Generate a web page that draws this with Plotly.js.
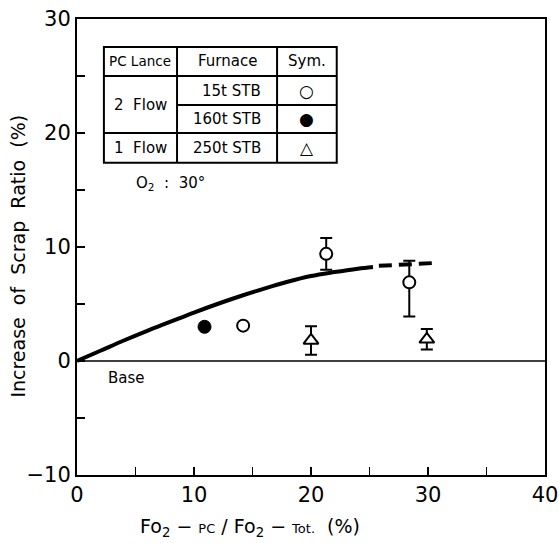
<!DOCTYPE html>
<html>
<head>
<meta charset="utf-8">
<script src="https://cdn.plot.ly/plotly-3.0.1.min.js"></script>
<style>html,body{margin:0;padding:0;background:#fff;}</style>
</head>
<body>
<div id="chart" style="width:559px;height:543px;"></div>
<script>
// Fitted curve (solid)
const curveX = [0, 2, 4, 6, 8, 10, 12, 14, 16, 18, 20, 22, 24, 25.3];
const curveY = [0, 0.9, 1.8, 2.65, 3.45, 4.25, 5.0, 5.7, 6.35, 6.95, 7.45, 7.8, 8.1, 8.25];
// Extrapolated curve (dashed)
const dashX = [25.8, 28, 30.6];
const dashY = [8.35, 8.5, 8.6];
// 15t STB (open circles)
const stb15X = [14.2, 21.3, 28.4];
const stb15Y = [3.1, 9.4, 6.9];
const stb15ErrPlus = [0, 1.4, 1.9];
const stb15ErrMinus = [0, 1.4, 3.0];
// 160t STB (filled circle)
const stb160X = [10.9];
const stb160Y = [3.0];
// 250t STB (triangles)
const stb250X = [20.0, 29.9];
const stb250Y = [1.8, 1.9];
const stb250Err = [1.25, 0.9];
// Axis ticks
const xTickVals = [0, 5, 10, 15, 20, 25, 30, 35, 40];
const xTickText = ['0', '', '10', '', '20', '', '30', '', '40'];
const yTickVals = [-10, -5, 0, 5, 10, 15, 20, 25, 30];
const yTickText = ['\u221210', '', '0', '', '10', '', '20', '', '30'];

const FONT = 'DejaVu Sans, Liberation Sans, sans-serif';

const traces = [
  {x: curveX, y: curveY, mode: 'lines', line: {color: '#000', width: 4, shape: 'spline'}, hoverinfo: 'skip'},
  {x: dashX, y: dashY, mode: 'lines', line: {color: '#000', width: 4, dash: '13px,7px'}, hoverinfo: 'skip'},
  {x: stb15X, y: stb15Y, mode: 'markers',
   marker: {symbol: 'circle', size: 12, color: '#fff', line: {color: '#000', width: 2}},
   error_y: {type: 'data', symmetric: false, array: stb15ErrPlus, arrayminus: stb15ErrMinus, color: '#000', thickness: 2, width: 6}},
  {x: stb160X, y: stb160Y, mode: 'markers',
   marker: {symbol: 'circle', size: 13, color: '#000', line: {color: '#000', width: 1}}},
  {x: stb250X, y: stb250Y, mode: 'markers',
   marker: {symbol: 'triangle-up', size: 13, color: '#fff', line: {color: '#000', width: 2}},
   error_y: {type: 'data', array: stb250Err, color: '#000', thickness: 2, width: 6}}
];

// Table geometry (data coordinates)
const tL = 2.3, c1 = 8.55, c2 = 17.1, tR = 22.2;
const rT = 27.55, r1 = 25.0, r2 = 22.45, r3 = 20.0, rB = 17.4;
const ln = {color: '#000', width: 2};
const shapes = [
  {type: 'rect', xref: 'x', yref: 'y', x0: tL, x1: tR, y0: rB, y1: rT, line: ln},
  {type: 'line', xref: 'x', yref: 'y', x0: c1, x1: c1, y0: rB, y1: rT, line: ln},
  {type: 'line', xref: 'x', yref: 'y', x0: c2, x1: c2, y0: rB, y1: rT, line: ln},
  {type: 'line', xref: 'x', yref: 'y', x0: tL, x1: tR, y0: r1, y1: r1, line: ln},
  {type: 'line', xref: 'x', yref: 'y', x0: c1, x1: tR, y0: r2, y1: r2, line: ln},
  {type: 'line', xref: 'x', yref: 'y', x0: tL, x1: tR, y0: r3, y1: r3, line: ln},
  {type: 'line', xref: 'x', yref: 'y', x0: 0, x1: 40, y0: 0, y1: 0, line: {color: '#000', width: 1.5}}
];

function ann(x, y, text, size, extra) {
  return Object.assign({xref: 'x', yref: 'y', x: x, y: y, text: text, showarrow: false,
    font: {family: FONT, size: size || 14, color: '#000'}}, extra || {});
}
const m1 = (tL + c1) / 2, m2 = (c1 + c2) / 2, m3 = (c2 + tR) / 2;
const annotations = [
  ann(m1, (rT + r1) / 2, 'PC Lance', 13.5),
  ann(m2, (rT + r1) / 2, 'Furnace', 15),
  ann(m3, (rT + r1) / 2, 'Sym.', 15),
  ann(m1, (r1 + r3) / 2, '2  Flow', 15),
  ann(m2 + 0.4, (r1 + r2) / 2, '15t STB', 15),
  ann(m2, (r2 + r3) / 2, '160t STB', 15),
  ann(m1, (r3 + rB) / 2, '1  Flow', 15),
  ann(m2, (r3 + rB) / 2, '250t STB', 15),
  ann(m3, (r1 + r2) / 2, '\u25CB', 17),
  ann(m3, (r2 + r3) / 2, '\u25CF', 17),
  ann(m3, (r3 + rB) / 2, '\u25B3', 17),
  ann(8.0, 15.6, 'O<sub>2</sub>  :  30\u00B0', 15),
  ann(4.2, -1.5, 'Base', 15),
  {xref: 'paper', yref: 'paper', x: -0.125, xanchor: 'center', y: 0.48, yanchor: 'middle', textangle: -90, showarrow: false,
   text: 'Increase  of  Scrap  Ratio  (%)', font: {family: FONT, size: 19, color: '#000'}},
  {xref: 'paper', yref: 'paper', x: 0.37, y: -0.115, yanchor: 'middle', showarrow: false,
   text: 'Fo<sub>2</sub> \u2212 <span style="font-size:13px">PC</span> / Fo<sub>2</sub> \u2212 <span style="font-size:13px">Tot.</span>  (%)',
   font: {family: FONT, size: 19, color: '#000'}}
];

const axisCommon = {showgrid: false, zeroline: false, showline: true, linecolor: '#000', linewidth: 2,
  mirror: true, ticks: 'inside', ticklen: 8, tickwidth: 1.5, tickcolor: '#000', tickmode: 'array',
  tickfont: {family: FONT, size: 21, color: '#000'}};

const layout = {
  width: 559, height: 543,
  margin: {l: 77, r: 14, t: 19, b: 68},
  paper_bgcolor: '#fff', plot_bgcolor: '#fff',
  showlegend: false,
  xaxis: Object.assign({}, axisCommon, {range: [0, 40], tickvals: xTickVals, ticktext: xTickText}),
  yaxis: Object.assign({}, axisCommon, {range: [-10, 30], tickvals: yTickVals, ticktext: yTickText}),
  shapes: shapes,
  annotations: annotations
};

Plotly.newPlot('chart', traces, layout, {staticPlot: true, displayModeBar: false});
</script>
</body>
</html>
